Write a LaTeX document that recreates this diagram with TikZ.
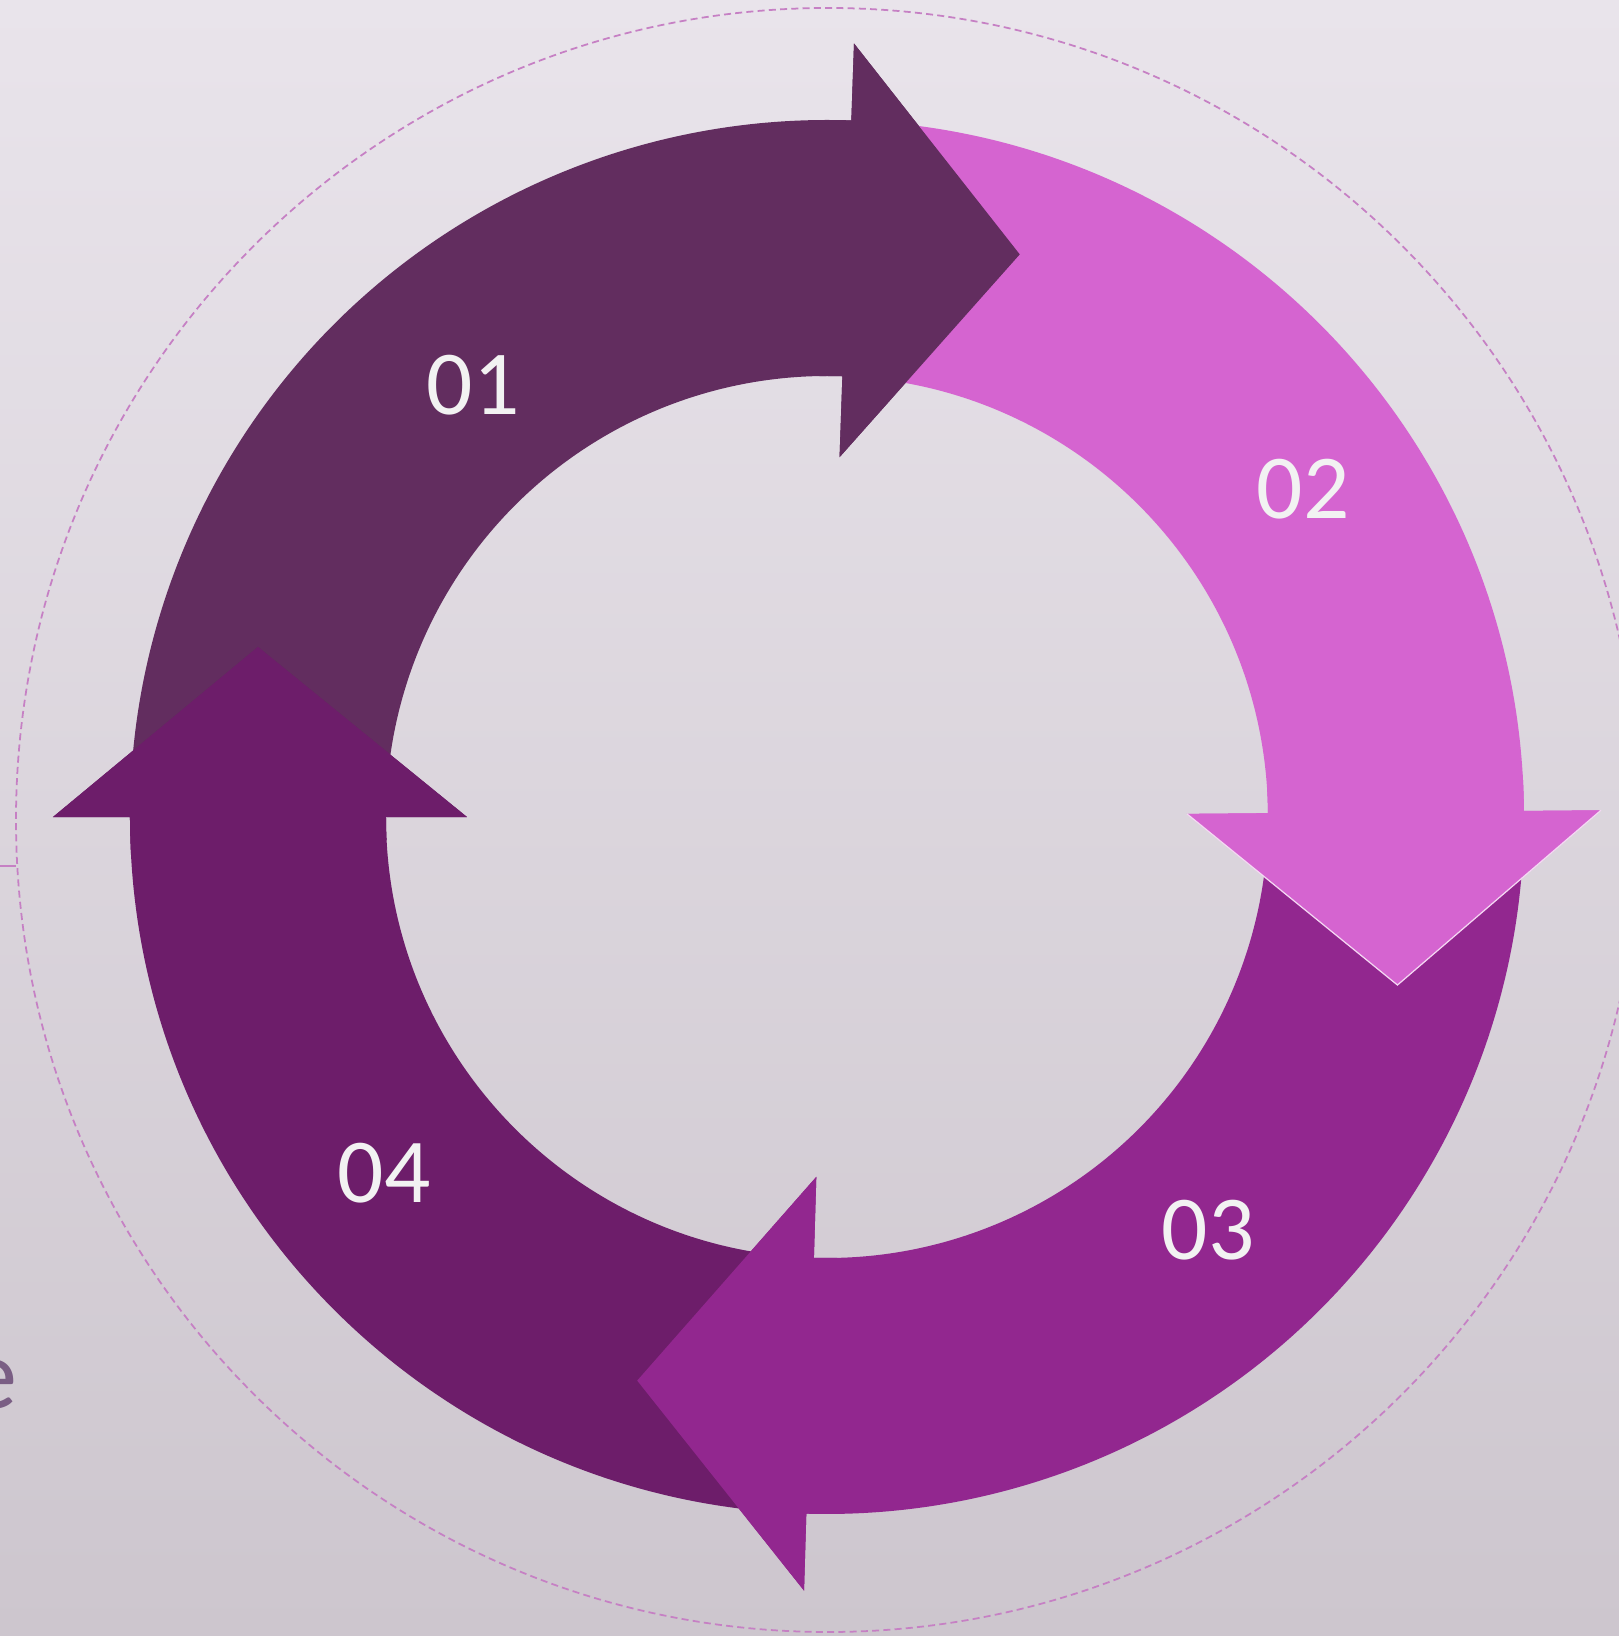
\documentclass[tikz,border=0pt]{standalone}
\usepackage{fontspec}
\setmainfont{Carlito}
\usetikzlibrary{calc}
\definecolor{bgtop}{RGB}{233,228,235}
\definecolor{bgbot}{RGB}{205,198,206}
\definecolor{strich}{RGB}{198,128,196}
\definecolor{farbeA}{RGB}{98,45,95}
\definecolor{farbeB}{RGB}{213,100,208}
\definecolor{farbeC}{RGB}{146,39,143}
\definecolor{farbeD}{RGB}{109,29,106}
\definecolor{ziffer}{RGB}{242,242,242}
\definecolor{restschrift}{RGB}{122,94,132}

\begin{document}
\begin{tikzpicture}[x=0.01cm,y=0.01cm,
	nummer/.style={text=ziffer,inner sep=0pt,font=\fontsize{26}{30}\selectfont},
	hilfslinie/.style={draw=strich,line width=0.5pt,dash pattern=on 2pt off 1.2pt},
	kante/.style={draw=white!75!farbeB,line width=0.35pt}]
	% Hintergrund
		\useasboundingbox (-827,-819) rectangle (792,817);
		\shade[top color=bgtop,bottom color=bgbot] (-827,-819) rectangle (792,817);
		\clip (-827,-819) rectangle (792,817);
		\draw[hilfslinie] (1,-3) circle[radius=812];
		\coordinate (rand) at (-827,-49);
		\coordinate (kreis) at (-811,-49);
		\draw[strich,line width=0.5pt] (rand) -- (kreis);
		\node[text=restschrift,inner sep=0pt,anchor=base east,font=\fontsize{28.5}{32}\selectfont] (rest) at (-809,-591) {e};
	% Spitzen
		\coordinate (s01) at ($(88:569)+(-2:173)$);
		\coordinate (s02) at ($(0.5:569)+(-89.5:173)$);
		\coordinate (s03) at ($(-91.7:569)+(178.3:173)$);
		\coordinate (s04) at ($(180:569)+(90:170)$);
	% Pfeile
		\fill[farbeA] (180:697) arc[start angle=180,end angle=88,radius=697] -- (88:774) -- (s01) -- (88:360) -- (88:441) arc[start angle=88,end angle=180,radius=441] -- cycle;
		\fill[farbeB] (88:697) arc[start angle=88,end angle=0.5,radius=697] -- (0.5:774) -- (s02) -- (0.5:360) -- (0.5:441) arc[start angle=0.5,end angle=88,radius=441] -- cycle;
		\fill[farbeC] (0.5:697) arc[start angle=0.5,end angle=-91.7,radius=697] -- (-91.7:774) -- (s03) -- (-91.7:360) -- (-91.7:441) arc[start angle=-91.7,end angle=0.5,radius=441] -- cycle;
		\fill[farbeD] (268.3:697) arc[start angle=268.3,end angle=180,radius=697] -- (180:774) -- (s04) -- (180:360) -- (180:441) arc[start angle=180,end angle=268.3,radius=441] -- cycle;
	% Spitzen nochmal oben drauf (mit Stueck Bogen)
		\fill[farbeA] (91:697) arc[start angle=91,end angle=88,radius=697] -- (88:774) -- (s01) -- (88:360) -- (88:441) arc[start angle=88,end angle=91,radius=441] -- cycle;
		\fill[farbeB] (3.5:697) arc[start angle=3.5,end angle=0.5,radius=697] -- (0.5:774) -- (s02) -- (0.5:360) -- (0.5:441) arc[start angle=0.5,end angle=3.5,radius=441] -- cycle;
		\draw[kante] (0.5:360) -- (s02) -- (0.5:774);
		\fill[farbeC] (-88.7:697) arc[start angle=-88.7,end angle=-91.7,radius=697] -- (-91.7:774) -- (s03) -- (-91.7:360) -- (-91.7:441) arc[start angle=-91.7,end angle=-88.7,radius=441] -- cycle;
		\fill[farbeD] (183:697) arc[start angle=183,end angle=180,radius=697] -- (180:774) -- (s04) -- (180:360) -- (180:441) arc[start angle=180,end angle=183,radius=441] -- cycle;
	% Beschriftung
		\node[nummer] (n01) at (-354,432) {01};
		\node[nummer] (n02) at (476,328) {02};
		\node[nummer] (n03) at (381,-413) {03};
		\node[nummer] (n04) at (-443,-356) {04};
\end{tikzpicture}
\end{document}
